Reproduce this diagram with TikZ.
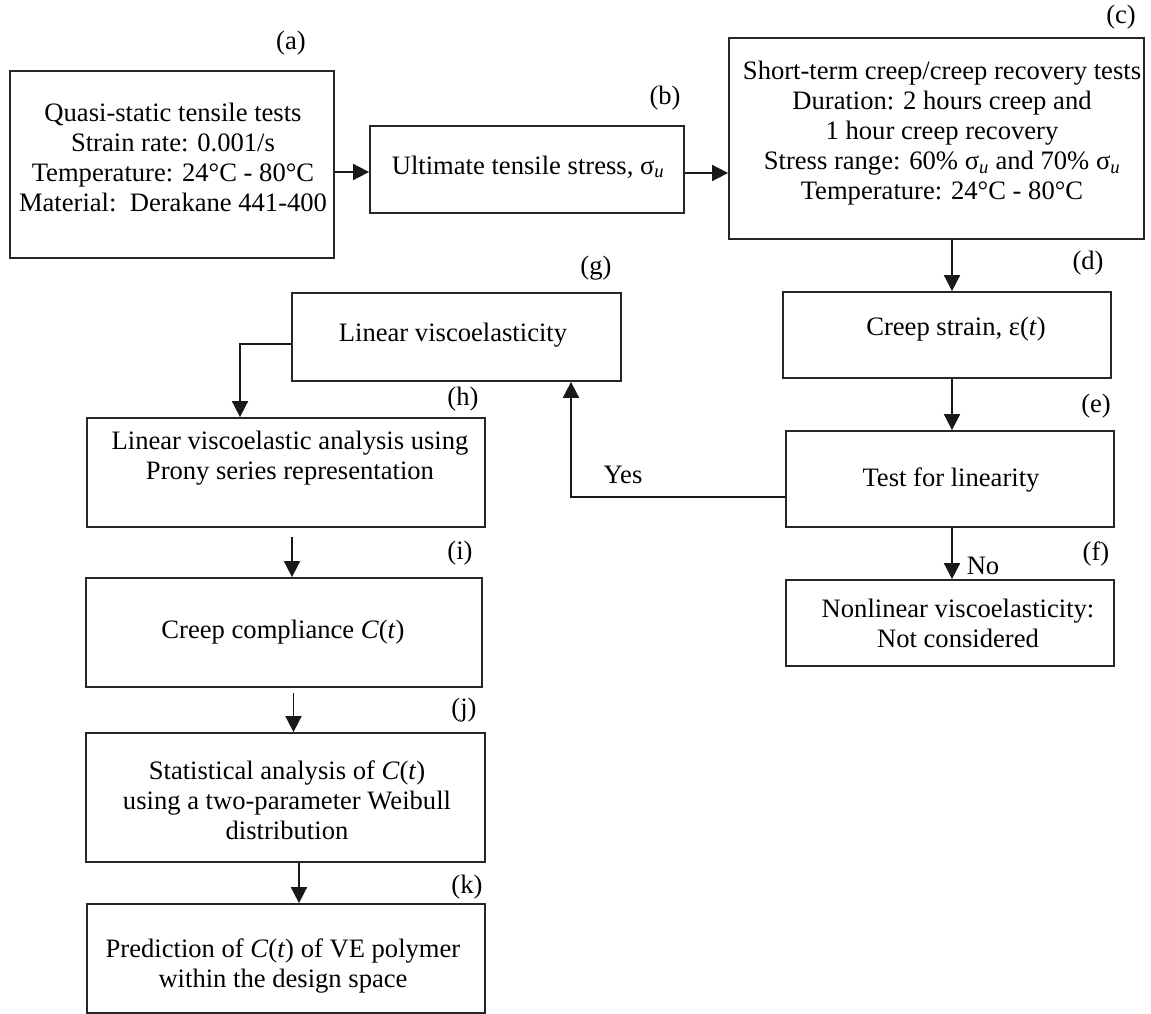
\documentclass[tikz,border=0pt]{standalone}
\usepackage{fontspec}
\setmainfont{Liberation Serif}
\usetikzlibrary{arrows.meta}
\begin{document}
\begin{tikzpicture}[x=1pt,y=-1pt]
\tikzset{
  boxx/.style={draw, rectangle, line width=1.8pt, draw=black!85, inner sep=0pt},
  txt/.style={align=center, inner sep=0pt, font=\fontsize{26.6}{30}\selectfont},
  lab/.style={inner sep=0pt, font=\fontsize{26.6}{30}\selectfont},
  arr/.style={line width=1.8pt, draw=black!90, -{Triangle[length=16pt,width=16pt]}},
  ln/.style={line width=1.8pt}
}
\newcommand{\su}{σ\textsubscript{\textit{u}}}
\useasboundingbox (0,0) rectangle (1151,1014);

% boxes
\node[boxx, minimum width=324pt, minimum height=187pt] (a) at (172,164.5) {};
\node[boxx, minimum width=314pt, minimum height=87pt] (b) at (527,169.5) {};
\node[boxx, minimum width=415pt, minimum height=201pt] (c) at (936.5,138.5) {};
\node[boxx, minimum width=328pt, minimum height=86pt] (d) at (947,335) {};
\node[boxx, minimum width=328pt, minimum height=96pt] (e) at (950,479) {};
\node[boxx, minimum width=328pt, minimum height=86pt] (f) at (950,623) {};
\node[boxx, minimum width=329pt, minimum height=88pt] (g) at (456.5,337) {};
\node[boxx, minimum width=398pt, minimum height=109pt] (h) at (286,472.5) {};
\node[boxx, minimum width=396pt, minimum height=109pt] (i) at (284,632.5) {};
\node[boxx, minimum width=399pt, minimum height=129pt] (j) at (285.5,797.5) {};
\node[boxx, minimum width=398pt, minimum height=109pt] (k) at (286,958.5) {};

% texts
\node[txt] (ta) at (173,157.5) {Quasi-static tensile tests\\Strain rate: 0.001/s\\Temperature: 24°C - 80°C\\Material:\ \ Derakane 441-400};
\node[txt] (tb) at (528,167) {Ultimate tensile stress, \su};
\node[txt] (tc) at (942,133) {Short-term creep/creep recovery tests\\Duration: 2 hours creep and\\1 hour creep recovery\\Stress range: 60\% \su{} and 70\% \su\\Temperature: 24°C - 80°C};
\node[txt] (td) at (956,329) {Creep strain, ε(\textit{t})};
\node[txt] (te) at (951,480) {Test for linearity};
\node[txt] (tf) at (958,623) {Nonlinear viscoelasticity:\\Not considered};
\node[txt] (tg) at (453,335) {Linear viscoelasticity};
\node[txt] (th) at (290,458) {Linear viscoelastic analysis using\\Prony series representation};
\node[txt] (ti) at (283,632) {Creep compliance \textit{C}(\textit{t})};
\node[txt] (tj) at (287,800) {Statistical analysis of \textit{C}(\textit{t})\\using a two-parameter Weibull\\distribution};
\node[txt] (tk) at (283,966) {Prediction of \textit{C}(\textit{t}) of VE polymer\\within the design space};

% labels
\node[lab] (la) at (291,43) {(a)};
\node[lab] (lb) at (665,98) {(b)};
\node[lab] (lc) at (1121,17) {(c)};
\node[lab] (ld) at (1088,263) {(d)};
\node[lab] (le) at (1096,406) {(e)};
\node[lab] (lf) at (1096,554) {(f)};
\node[lab] (lg) at (596,268) {(g)};
\node[lab] (lh) at (463,399) {(h)};
\node[lab] (li) at (460,553) {(i)};
\node[lab] (lj) at (464,710) {(j)};
\node[lab] (lk) at (467,887) {(k)};
\node[lab] (yes) at (623,475) {Yes};
\node[lab] (no) at (983,566) {No};

% connectors
\draw[arr] ([yshift=-7.5pt]a.east) -- ([yshift=-7.5pt]a.east -| b.west);
\draw[arr] ([yshift=-3.5pt]b.east) -- ([yshift=-3.5pt]b.east -| c.west);
\draw[arr] ([xshift=5pt]d.north |- c.south) -- ([xshift=5pt]d.north);
\draw[arr] ([xshift=2pt]e.north |- d.south) -- ([xshift=2pt]e.north);
\draw[arr] ([xshift=2pt]e.south) -- ([xshift=2pt]f.north);
\coordinate (ybend) at (571,497);
\draw[arr] (ybend -| e.west) -- (ybend) -- (ybend |- g.south);
\coordinate (gbend) at (240,344);
\draw[arr] (gbend -| g.west) -- (gbend) -- (gbend |- h.north);
\draw[arr, shorten <=9pt] ([xshift=8pt]i.north |- h.south) -- ([xshift=8pt]i.north);
\draw[arr, shorten <=5pt] ([xshift=8pt]j.north |- i.south) -- ([xshift=8pt]j.north);
\draw[arr] ([xshift=13pt]k.north |- j.south) -- ([xshift=13pt]k.north);
\end{tikzpicture}
\end{document}
